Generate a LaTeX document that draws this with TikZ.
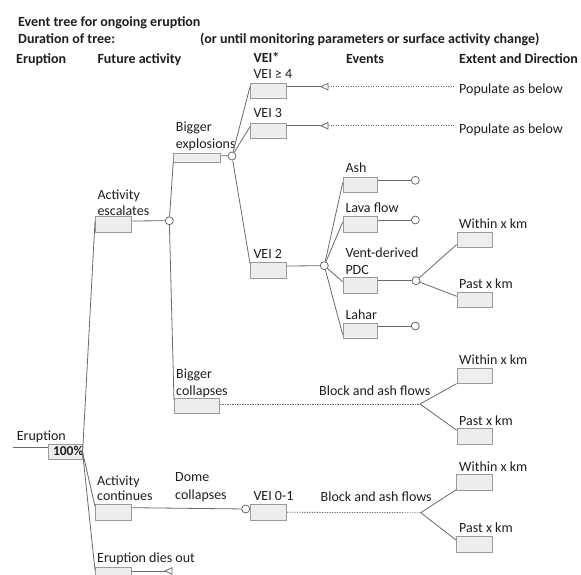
\documentclass[tikz,border=0pt]{standalone}
\usepackage{fontspec}
\setmainfont{Carlito}
\usetikzlibrary{calc}
\definecolor{txt}{HTML}{1E1E1E}
\definecolor{linec}{HTML}{6A6A6A}
\definecolor{boxc}{HTML}{9A9A9A}
\definecolor{boxf}{HTML}{EDEDED}
\newcommand\myfs{\fontsize{14}{16}\selectfont}
\begin{document}
\begin{tikzpicture}[x=1pt,y=-1pt,
  lbl/.style={anchor=base west, inner sep=0pt, font=\myfs, text=txt},
  hdr/.style={lbl, font=\myfs\bfseries},
  box/.style={draw=boxc, fill=boxf, line width=0.8pt, anchor=north west, inner sep=0pt, minimum width=36pt, minimum height=15.5pt},
  conn/.style={draw=linec, line width=0.8pt},
  dots/.style={conn, dash pattern=on 1.3pt off 1.2pt},
  knot/.style={circle, draw=linec, fill=white, line width=0.8pt, minimum size=8pt, inner sep=0pt},
  tri/.style={draw=linec, fill=white, line width=0.8pt, line join=miter}]
\useasboundingbox (0,0) rectangle (581,575);

% ---------- texts ----------
\node[hdr] (title) at (18,26.5) {Event tree for ongoing eruption};
\node[hdr] (dur) at (18,43.3) {Duration of tree:};
\node[hdr] (until) at (200,43.3) {(or until monitoring parameters or surface activity change)};
\node[hdr] (hEr) at (16,64) {Eruption};
\node[hdr] (hFa) at (97.3,64) {Future activity};
\node[hdr] (hVei) at (253.3,63) {VEI*};
\node[hdr] (hEv) at (346,63.3) {Events};
\node[hdr] (hEx) at (459,63.3) {Extent and Direction};

\node[lbl] (lV4) at (253.3,79) {VEI ≥ 4};
\node[lbl] (lV3) at (253.3,117.7) {VEI 3};
\node[lbl] (lBE1) at (175.7,131.5) {Bigger};
\node[lbl] (lBE2) at (175.7,148.3) {explosions};
\node[lbl] (lAE1) at (97.3,199) {Activity};
\node[lbl] (lAE2) at (97.3,215.3) {escalates};
\node[lbl] (lBC1) at (176,378.3) {Bigger};
\node[lbl] (lBC2) at (176,395) {collapses};
\node[lbl] (lV2) at (253.3,258.3) {VEI 2};
\node[lbl] (lAsh) at (345.3,172.7) {Ash};
\node[lbl] (lLava) at (345.3,212.7) {Lava flow};
\node[lbl] (lPDC1) at (345.3,257.3) {Vent-derived};
\node[lbl] (lPDC2) at (345.3,274.3) {PDC};
\node[lbl] (lLahar) at (345.3,319.3) {Lahar};
\node[lbl] (pop1) at (459,94) {Populate as below};
\node[lbl] (pop2) at (459,133.3) {Populate as below};
\node[lbl] (lW1) at (459,228.3) {Within x km};
\node[lbl] (lP1) at (459,288.3) {Past x km};
\node[lbl] (lW2) at (459,364) {Within x km};
\node[lbl] (lP2) at (459,425.5) {Past x km};
\node[lbl] (lW3) at (459,471) {Within x km};
\node[lbl] (lP3) at (459,532.5) {Past x km};
\node[lbl] (lBA1) at (319,395) {Block and ash flows};
\node[lbl] (lBA2) at (320.5,501) {Block and ash flows};
\node[lbl] (lEr) at (16.7,440) {Eruption};
\node[lbl] (lAC1) at (97,485) {Activity};
\node[lbl] (lAC2) at (97,500) {continues};
\node[lbl] (lDC1) at (175,481.7) {Dome};
\node[lbl] (lDC2) at (175,499) {collapses};
\node[lbl] (lV01) at (253.3,500) {VEI 0-1};
\node[lbl] (lED) at (97,562.3) {Eruption dies out};

% ---------- boxes ----------
\node[box, minimum width=33.5pt, minimum height=15pt] (b100) at (48.3,444.3) {};
\node[lbl, font=\fontsize{13.5}{15}\selectfont\bfseries] (t100) at (52.8,455.7) {100\%};
\node[box, minimum height=16pt] (bAE) at (95,216) {};
\node[box, minimum height=16pt] (bAC) at (95,504.3) {};
\node[box, minimum height=16pt] (bED) at (95,566.7) {};
\node[box, minimum width=47pt, minimum height=9pt] (bBE) at (173.3,152.7) {};
\node[box, minimum width=45pt, minimum height=15pt] (bBC) at (174,398.3) {};
\node[box, minimum height=15pt] (bV4) at (250,82.7) {};
\node[box, minimum height=15pt] (bV3) at (250,122.7) {};
\node[box] (bV2) at (250,262) {};
\node[box, minimum height=16pt] (bV01) at (250,504.3) {};
\node[box, minimum width=34pt] (bAsh) at (342.7,176.7) {};
\node[box, minimum width=34pt] (bLava) at (342.7,216) {};
\node[box, minimum width=34pt] (bPDC) at (342.7,277.3) {};
\node[box, minimum width=34pt] (bLahar) at (342.7,322.7) {};
\node[box, minimum width=35pt, minimum height=15pt] (bW1) at (456.7,231.7) {};
\node[box, minimum width=35pt, minimum height=15pt] (bP1) at (456.7,292.3) {};
\node[box, minimum width=35pt, minimum height=15pt] (bW2) at (456.7,368.3) {};
\node[box, minimum width=35pt, minimum height=15.5pt] (bP2) at (456.7,428.3) {};
\node[box, minimum width=35.5pt, minimum height=15.7pt] (bW3) at (456,474.3) {};
\node[box, minimum width=35.5pt, minimum height=15.7pt] (bP3) at (456,536) {};

% ---------- chance nodes ----------
\node[knot] (cAE) at (169.3,220.7) {};
\node[knot] (cBE) at (232,156) {};
\node[knot] (cV2) at (324.3,265.7) {};
\node[knot] (cAsh) at (415.3,180.3) {};
\node[knot] (cLava) at (415.3,220) {};
\node[knot] (cPDC) at (416,280.7) {};
\node[knot] (cLahar) at (415.3,326) {};
\node[knot] (cV01) at (245.7,509) {};

\coordinate (e0) at (13,447.7);
\coordinate (fBC) at (420,404);
\coordinate (fV01) at (420.7,512.7);
\coordinate (t4) at (321,86.7);
\coordinate (t3) at (321,125.7);
\coordinate (tED) at (165,571);
\coordinate (t4b) at ($(t4)+(7,0)$);
\coordinate (t3b) at ($(t3)+(7,0)$);
\coordinate (tEDb) at ($(tED)+(7,0)$);

% ---------- connectors ----------
\draw[conn] (e0) -- (e0 -| b100.west);
\draw[conn] (b100.east) -- ($(bAE.north west)+(0,5.5)$);
\draw[conn] (b100.east) -- ($(bAC.north west)+(0,2)$);
\draw[conn] (b100.east) -- ($(bED.north west)+(0,3.5)$);

\draw[conn] ($(bAE.north east)+(0,5)$) -- (cAE);
\draw[conn] (cAE) -- ($(bBE.south west)+(0,-1)$);
\draw[conn] (cAE) -- ($(bBC.north west)+(0,2)$);

\draw[conn] ($(bBE.north east)+(0,3)$) -- (cBE);
\draw[conn] (cBE) -- ($(bV4.north west)+(0,4)$);
\draw[conn] (cBE) -- ($(bV3.north west)+(0,4)$);
\draw[conn] (cBE) -- ($(bV2.north west)+(0,1.5)$);

\draw[conn] ($(bV4.north east)+(0,4)$) -- (t4);
\draw[conn] ($(bV3.north east)+(0,3)$) -- (t3);
\draw[dots] (t4b) -- ($(t4b -| pop1.west)+(-4,0)$);
\draw[dots] (t3b) -- ($(t3b -| pop2.west)+(-4,0)$);
\draw[tri] (t4) -- ++(7,-3.3) -- ++(0,6.6) -- cycle;
\draw[tri] (t3) -- ++(7,-3.3) -- ++(0,6.6) -- cycle;

\draw[conn] ($(bV2.north east)+(0,4)$) -- (cV2);
\draw[conn] (cV2) -- ($(bAsh.north west)+(0,6)$);
\draw[conn] (cV2) -- ($(bLava.north west)+(0,6)$);
\draw[conn] (cV2) -- ($(bPDC.north west)+(0,4.5)$);
\draw[conn] (cV2) -- ($(bLahar.north west)+(0,12)$);

\draw[conn] ($(bAsh.north east)+(0,3.6)$) -- (cAsh);
\draw[conn] ($(bLava.north east)+(0,4)$) -- (cLava);
\draw[conn] ($(bPDC.north east)+(0,3.4)$) -- (cPDC);
\draw[conn] ($(bLahar.north east)+(0,3.3)$) -- (cLahar);

\draw[conn] (cPDC) -- ($(bW1.south west)+(0,-3)$);
\draw[conn] (cPDC) -- ($(bP1.north west)+(0,4)$);

\draw[dots] ($(bBC.north east)+(0,5.7)$) -- (fBC);
\draw[conn] (fBC) -- ($(bW2.south west)+(0,-0.5)$);
\draw[conn] (fBC) -- ($(bP2.north west)+(0,2)$);

\draw[conn] ($(bAC.north east)+(0,3.4)$) -- (cV01);
\draw[dots] ($(bV01.north east)+(0,8)$) -- (fV01);
\draw[conn] (fV01) -- ($(bW3.south west)+(0,-1)$);
\draw[conn] (fV01) -- ($(bP3.north west)+(0,4)$);

\draw[conn] ($(bED.north east)+(0,4.3)$) -- (tED);
\draw[tri] (tED) -- ++(7,-3.3) -- ++(0,6.6) -- cycle;
\end{tikzpicture}
\end{document}
